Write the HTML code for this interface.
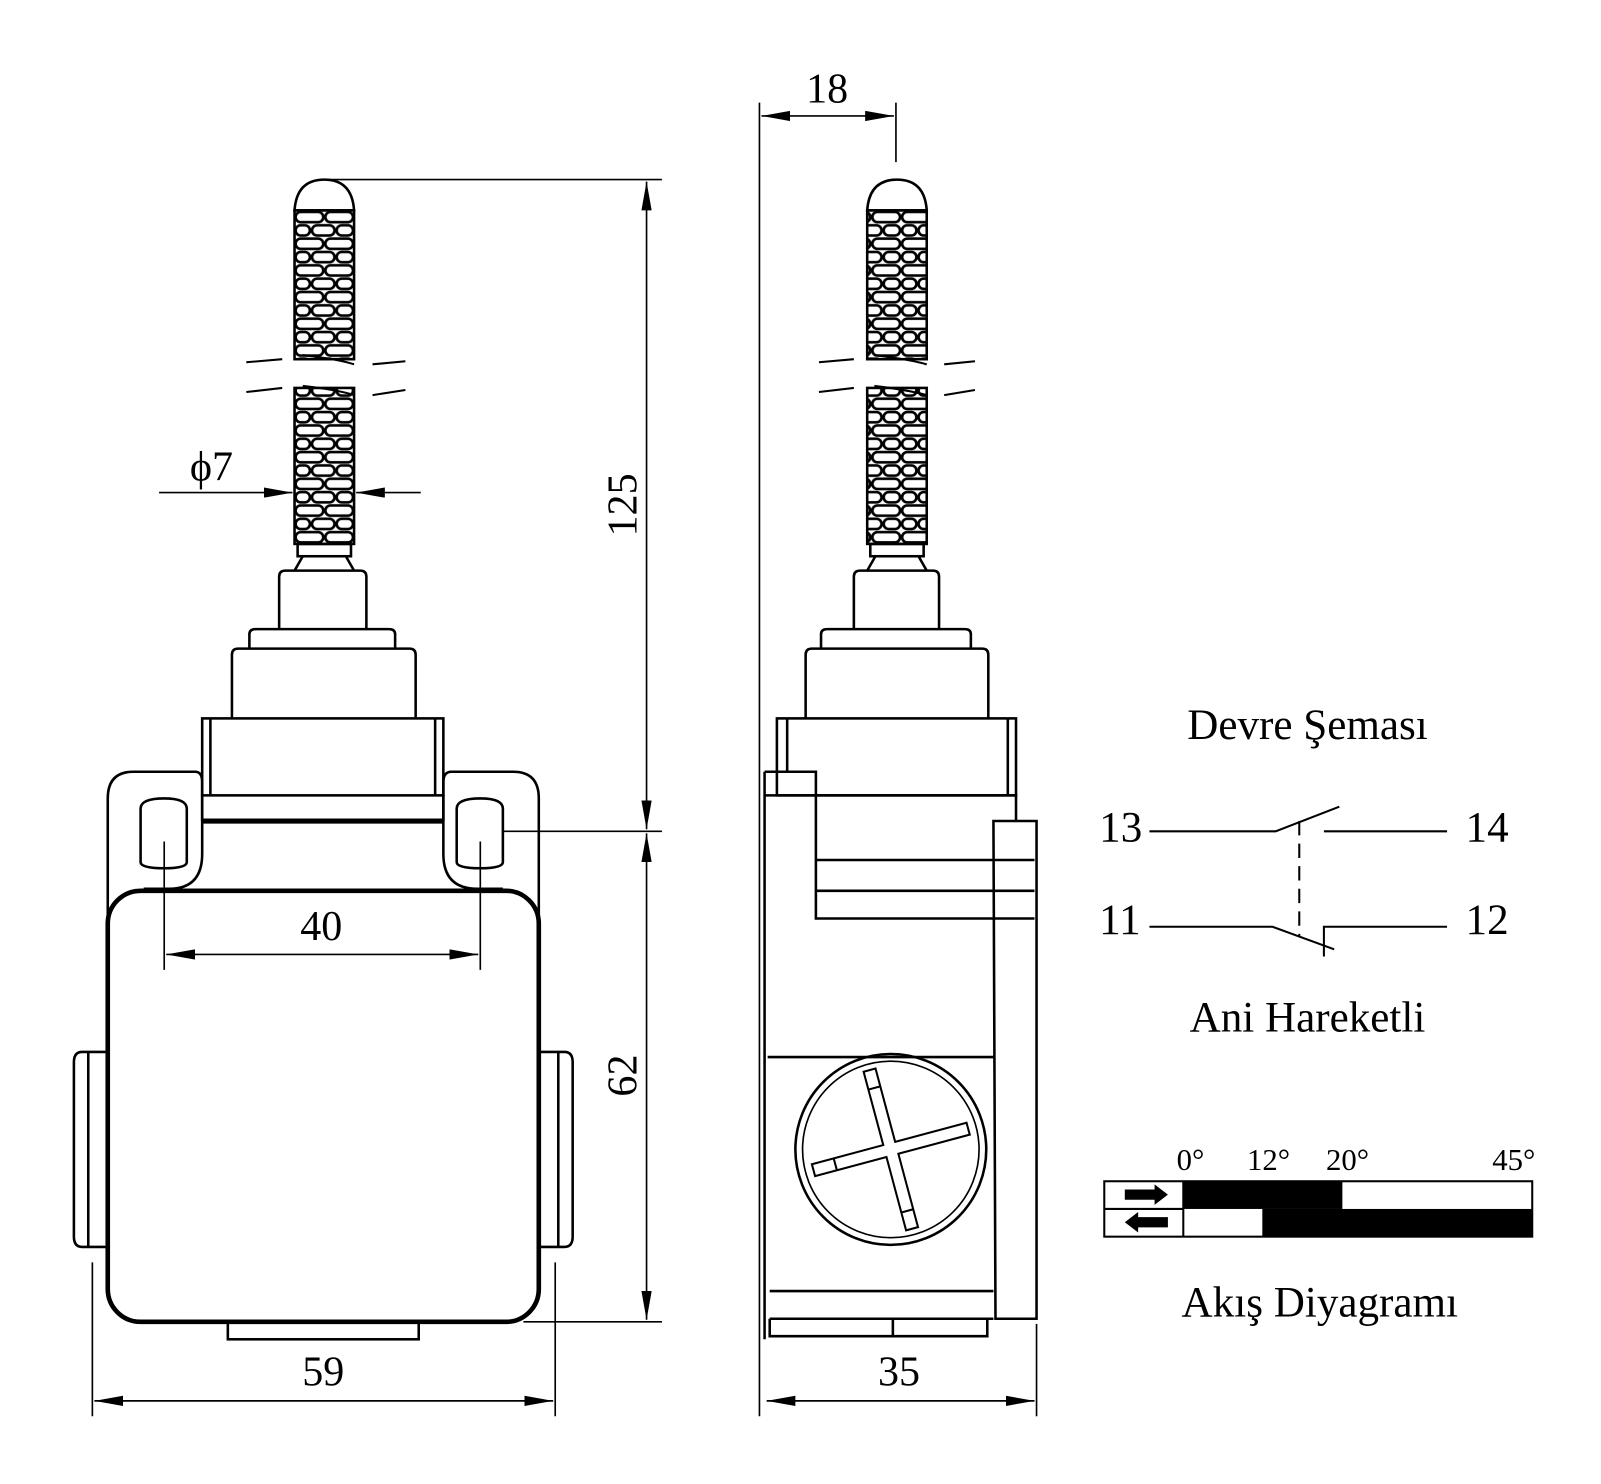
<!DOCTYPE html>
<html><head><meta charset="utf-8"><style>
html,body{margin:0;padding:0;background:#fff}
svg{display:block}
text{font-family:"Liberation Serif",serif;fill:#000}
</style></head><body>
<svg width="1601" height="1484" viewBox="0 0 1560 1446" preserveAspectRatio="none" xmlns="http://www.w3.org/2000/svg">
<defs>
<pattern id="br" patternUnits="userSpaceOnUse" x="0" y="205" width="58" height="26">
<g fill="none" stroke="#000" stroke-width="2.6">
<rect x="1" y="1.5" width="27" height="10" rx="5"/><rect x="30" y="1.5" width="27" height="10" rx="5"/>
<rect x="1" y="14.5" width="14" height="10" rx="5"/><rect x="17" y="14.5" width="22" height="10" rx="5"/><rect x="41" y="14.5" width="16" height="10" rx="5"/>
</g></pattern>
<pattern id="br2" patternUnits="userSpaceOnUse" x="845" y="205" width="58" height="26">
<g fill="none" stroke="#000" stroke-width="2.6">
<rect x="1" y="1.5" width="27" height="10" rx="5"/><rect x="30" y="1.5" width="27" height="10" rx="5"/>
<rect x="1" y="14.5" width="14" height="10" rx="5"/><rect x="17" y="14.5" width="22" height="10" rx="5"/><rect x="41" y="14.5" width="16" height="10" rx="5"/>
</g></pattern>
<marker id="a" viewBox="0 0 28 10" refX="28" refY="5" markerWidth="28" markerHeight="10" markerUnits="userSpaceOnUse" orient="auto-start-reverse"><path d="M0,0L28,5L0,10z" fill="#000"/></marker>
</defs>
<g fill="none" stroke="#000" stroke-width="2.5">
<g transform="translate(287,0)">
<path d="M0,205 Q2,175 29,175 Q56,175 58,205 Z" fill="#fff"/>
<rect x="0" y="205" width="58" height="145" fill="url(#br)"/>
<rect x="0" y="378" width="58" height="152" fill="url(#br)"/>
<rect x="3" y="530" width="52" height="12"/>
<path d="M8,542 L0,556 M50,542 L58,556"/>
<path d="M-15,612 V562 Q-15,556 -9,556 H64 Q70,556 70,562 V612"/>
<path d="M-44,632 V618 Q-44,613 -38,613 H92 Q98,613 98,618 V632"/>
<path d="M-61,700 V638 Q-61,632 -55,632 H112 Q118,632 118,638 V700"/>
</g>
<g stroke-width="2">
<path d="M240,353 L275,350 M295,346 Q330,350 345,355 M363,355 L395,352"/>
<path d="M240,382 L275,378 M295,376 Q330,380 345,385 M363,385 L395,380"/>
</g>
<rect x="197" y="700" width="235" height="75"/>
<path d="M205,700 V775 M424,700 V775"/>
<path d="M197,775 V800 M432,775 V800"/>
<path d="M197,800 H432" stroke-width="5"/>
<path d="M105,900 V778 Q105,752 130,752 H190 Q197,752 197,762 V832 Q197,866 165,866 H140"/>
<path d="M525,900 V778 Q525,752 500,752 H440 Q432,752 432,762 V832 Q432,866 465,866 H490"/>
<path d="M137,840 V788 Q137,778 160,778 Q182,778 182,788 V840 Q182,846 160,846 Q137,846 137,840Z"/>
<path d="M445,840 V788 Q445,778 468,778 Q490,778 490,788 V840 Q490,846 468,846 Q445,846 445,840Z"/>
<rect x="105" y="868" width="420" height="420" rx="32" stroke-width="4.5"/>
<path d="M105,1025 H80 Q72,1025 72,1035 V1205 Q72,1215 80,1215 H105 M86,1025 V1215"/>
<path d="M525,1025 H550 Q558,1025 558,1035 V1205 Q558,1215 550,1215 H525 M544,1025 V1215"/>
<rect x="222" y="1288" width="186" height="17"/>
</g>
<g stroke="#000" stroke-width="1.6" fill="none">
<path d="M160,820 V945 M468,820 V945"/>
<path d="M162,930 H466" marker-start="url(#a)" marker-end="url(#a)"/>
<path d="M90,1230 V1380 M541,1230 V1380"/>
<path d="M92,1365 H539" marker-start="url(#a)" marker-end="url(#a)"/>
<path d="M320,175 H645 M490,810 H645 M510,1288 H645"/>
<path d="M630,177 V808" marker-start="url(#a)" marker-end="url(#a)"/>
<path d="M630,812 V1286" marker-start="url(#a)" marker-end="url(#a)"/>
<path d="M155,480 H285" marker-end="url(#a)"/>
<path d="M410,480 H347" marker-end="url(#a)"/>
</g>
<text x="313" y="916" font-size="41" text-anchor="middle">40</text>
<text x="315" y="1350" font-size="41" text-anchor="middle">59</text>
<text transform="translate(620,492) rotate(-90)" font-size="41" text-anchor="middle">125</text>
<text transform="translate(620,1048) rotate(-90)" font-size="41" text-anchor="middle">62</text>
<text x="185" y="468" font-size="41">ϕ7</text>

<g fill="none" stroke="#000" stroke-width="2.5">
<g transform="translate(845,0)">
<path d="M0,205 Q2,175 29,175 Q56,175 58,205 Z" fill="#fff"/>
<rect x="0" y="205" width="58" height="145" fill="url(#br2)"/>
<rect x="0" y="378" width="58" height="152" fill="url(#br2)"/>
<rect x="3" y="530" width="52" height="12"/>
<path d="M8,542 L0,556 M50,542 L58,556"/>
<path d="M-13,612 V562 Q-13,556 -7,556 H64 Q70,556 70,562 V612"/>
<path d="M-45,632 V618 Q-45,613 -39,613 H95 Q101,613 101,618 V632"/>
<path d="M-60,700 V638 Q-60,632 -54,632 H112 Q118,632 118,638 V700"/>
</g>
<g stroke-width="2">
<path d="M798,353 L832,350 M852,346 Q885,350 903,355 M920,355 L950,352"/>
<path d="M798,382 L832,378 M852,376 Q885,380 903,385 M920,385 L950,380"/>
</g>
<rect x="757" y="700" width="233" height="75"/>
<path d="M767,700 V752 M982,700 V775"/>
<path d="M745,752 H795 V895 H1008 M745,775 H990 V800"/>
<path d="M795,838 H1008 M795,868 H1008"/>
<path d="M968,800 H1010 V1285 H970 Z"/>
<path d="M745,752 V1305 M748,1030 H968 M750,1258 H968 M750,1285 H968"/>
<path d="M750,1285 V1302 H962 V1285 M870,1285 V1302"/>
<circle cx="868" cy="1120" r="93"/>
<circle cx="868" cy="1120" r="86" stroke-width="1.6"/>
<g transform="rotate(-15 868 1120)" stroke-width="2">
<path d="M862,1040 H874 V1114 H946 V1126 H874 V1200 H862 V1126 H790 V1114 H862 Z" fill="#fff"/>
<path d="M862,1058 H874 M862,1182 H874 M812,1114 V1126"/>
</g>
</g>
<g stroke="#000" stroke-width="1.6" fill="none">
<path d="M740,100 V1380 M873,100 V158"/>
<path d="M742,113 H871" marker-start="url(#a)" marker-end="url(#a)"/>
<path d="M1010,1290 V1380"/>
<path d="M747,1365 H1008" marker-start="url(#a)" marker-end="url(#a)"/>
</g>
<text x="806" y="100" font-size="41" text-anchor="middle">18</text>
<text x="876" y="1350" font-size="41" text-anchor="middle">35</text>

<text x="1274" y="720" font-size="42" text-anchor="middle">Devre Şeması</text>
<text x="1071" y="820" font-size="42">13</text>
<text x="1428" y="820" font-size="42">14</text>
<text x="1071" y="910" font-size="42">11</text>
<text x="1428" y="910" font-size="42">12</text>
<g stroke="#000" stroke-width="2" fill="none">
<path d="M1120,810 H1243 L1305,786 M1290,810 H1410"/>
<path d="M1266,800 V912" stroke-dasharray="14,8"/>
<path d="M1120,903 H1240 L1300,925 M1290,932 V903 H1410"/>
</g>
<text x="1274" y="1005" font-size="42" text-anchor="middle">Ani Hareketli</text>

<text x="1160" y="1140" font-size="30" text-anchor="middle">0°</text>
<text x="1236" y="1140" font-size="30" text-anchor="middle">12°</text>
<text x="1313" y="1140" font-size="30" text-anchor="middle">20°</text>
<text x="1475" y="1140" font-size="30" text-anchor="middle">45°</text>
<rect x="1076" y="1151" width="417" height="54" fill="none" stroke="#000" stroke-width="2"/>
<path d="M1076,1178 H1153 M1153,1151 V1205" stroke="#000" stroke-width="2"/>
<rect x="1153" y="1151" width="155" height="27" fill="#000"/>
<rect x="1230" y="1178" width="263" height="27" fill="#000"/>
<path d="M1096,1159 H1125 V1154 L1138,1164 L1125,1174 V1169 H1096Z" fill="#000"/>
<path d="M1138,1186 H1109 V1181 L1096,1191 L1109,1201 V1196 H1138Z" fill="#000"/>
<text x="1286" y="1283" font-size="42" text-anchor="middle">Akış Diyagramı</text>
</svg>
</body></html>
